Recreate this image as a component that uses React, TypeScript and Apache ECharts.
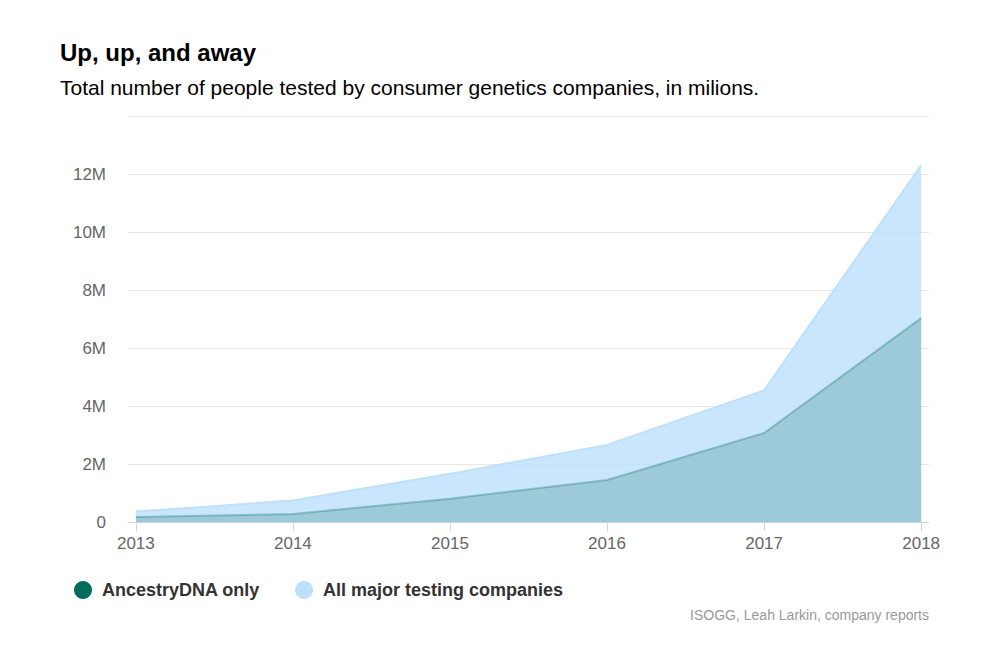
import { useEffect, useRef } from 'react'
import * as echarts from 'echarts'

// ---------- data ----------
const YEARS = [2013, 2014, 2015, 2016, 2017, 2018]
const ANCESTRY_ONLY = [0.17, 0.28, 0.8, 1.45, 3.07, 7.03]
const ALL_MAJOR = [0.36, 0.74, 1.66, 2.66, 4.54, 12.3]
const SERIES_NAMES = ['AncestryDNA only', 'All major testing companies']

const FONT = 'Liberation Sans, Arial, Helvetica, sans-serif'
const LABEL_COLOR = '#666666'
const GRID_COLOR = '#e6e6e6'
const AXIS_COLOR = '#ccd6eb'

export default function App() {
  const ref = useRef<HTMLDivElement>(null)

  useEffect(() => {
    document.body.style.margin = '0'
    if (!ref.current) return
    const chart = echarts.init(ref.current, undefined, { renderer: 'svg' })

    const option: echarts.EChartsOption = {
      animation: false,
      backgroundColor: '#ffffff',
      textStyle: { fontFamily: FONT },
      title: [
        {
          text: 'Up, up, and away',
          left: 60,
          top: 40,
          padding: 0,
          textStyle: { fontSize: 24, fontWeight: 'bold', color: '#000000', fontFamily: FONT },
        },
        {
          text: 'Total number of people tested by consumer genetics companies, in milions.',
          left: 60,
          top: 77,
          padding: 0,
          textStyle: { fontSize: 21, fontWeight: 'normal', color: '#000000', fontFamily: FONT },
        },
      ],
      legend: {
        left: 74,
        top: 581,
        padding: 0,
        icon: 'circle',
        itemWidth: 18,
        itemHeight: 18,
        itemGap: 35,
        data: [
          { name: SERIES_NAMES[0], itemStyle: { color: '#006b5c' } },
          { name: SERIES_NAMES[1], itemStyle: { color: '#bde0fb' } },
        ],
        textStyle: {
          fontSize: 18,
          fontWeight: 'bold',
          color: '#333333',
          fontFamily: FONT,
          padding: [0, 0, 0, 5],
        },
      },
      grid: { left: 128, right: 64, top: 116, bottom: 125, containLabel: false },
      xAxis: {
        type: 'value',
        min: 2012.95,
        max: 2018.05,
        axisLine: { show: true, lineStyle: { color: AXIS_COLOR, width: 1 } },
        axisTick: {
          show: true,
          length: 9,
          lineStyle: { color: AXIS_COLOR },
          customValues: YEARS,
        },
        axisLabel: {
          color: LABEL_COLOR,
          fontSize: 17,
          margin: 13,
          fontFamily: FONT,
          customValues: YEARS,
          formatter: (v: number) => String(Math.round(v)),
        },
        splitLine: { show: false },
      },
      yAxis: {
        type: 'value',
        min: 0,
        max: 14,
        interval: 2,
        axisLine: { show: false },
        axisTick: { show: false },
        axisLabel: {
          color: LABEL_COLOR,
          fontSize: 17,
          margin: 22,
          fontFamily: FONT,
          formatter: (v: number) => (v === 0 ? '0' : v >= 14 ? '' : `${v}M`),
        },
        splitLine: { lineStyle: { color: GRID_COLOR, width: 1 } },
      },
      series: [
        {
          name: SERIES_NAMES[1],
          type: 'line',
          data: YEARS.map((y, i) => [y, ALL_MAJOR[i]]),
          showSymbol: false,
          color: '#bde0fb',
          lineStyle: { color: '#bde0fb', width: 2 },
          areaStyle: { color: 'rgba(189,224,251,0.8)', opacity: 1 },
          z: 2,
        },
        {
          name: SERIES_NAMES[0],
          type: 'line',
          data: YEARS.map((y, i) => [y, ANCESTRY_ONLY[i]]),
          showSymbol: false,
          color: '#006b5c',
          lineStyle: { color: 'rgba(0,107,92,0.3)', width: 2 },
          areaStyle: { color: 'rgba(0,107,92,0.22)', opacity: 1 },
          z: 3,
        },
      ],
      graphic: [
        {
          type: 'text',
          right: 64,
          top: 608,
          style: {
            text: 'ISOGG, Leah Larkin, company reports',
            fill: '#999999',
            fontSize: 14,
            fontFamily: FONT,
          },
        },
      ],
    }

    chart.setOption(option)
    return () => chart.dispose()
  }, [])

  return <div ref={ref} style={{ width: 993, height: 647 }} />
}
